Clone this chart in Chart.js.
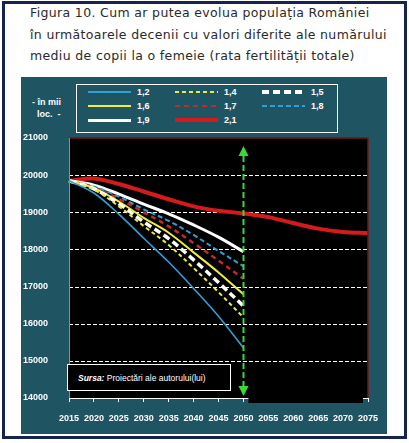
<!DOCTYPE html>
<html>
<head>
<meta charset="utf-8">
<script src="https://cdn.jsdelivr.net/npm/chart.js@4.4.1/dist/chart.umd.min.js"></script>
<style>
    body { margin: 0; width: 409px; height: 443px; position: relative; overflow: hidden; background: #fff; font-family: 'Liberation Sans', Arial, sans-serif; }
    #frame { position: absolute; left: 2px; top: 1px; width: 399px; height: 432px; border: 3px solid #14244a; }
    #titlu { position: absolute; left: 30px; top: 2px; font-family: 'DejaVu Sans', sans-serif; font-size: 12.5px; letter-spacing: 0.35px; line-height: 21.7px; color: #2a2a2a; white-space: nowrap; }
    #panou { position: absolute; left: 21px; top: 77px; width: 366px; height: 357px; background: #1f5463; }
    #unit { position: absolute; left: 32px; top: 96px; color: #fff; font-size: 9px; font-weight: bold; line-height: 12px; }
    #legenda { position: absolute; left: 76px; top: 84px; width: 260px; height: 47px; border: 1px solid #fff; }
    .item { position: absolute; height: 12px; color: #fff; font-size: 9px; font-weight: bold; line-height: 12px; }
    .item span.l { position: absolute; left: 0; width: 43px; }
    .item span.t { position: absolute; left: 49px; }
    #c { position: absolute; left: 0; top: 0; }
    #sursa { position: absolute; left: 67px; top: 364px; width: 164px; height: 27px; border: 1px solid #fff; background: #000; color: #fff; font-size: 8.5px; line-height: 27px; padding-left: 10px; box-sizing: border-box; white-space: nowrap; }
</style>
</head>
<body>
<div id="frame"></div>
<div id="titlu">Figura 10. Cum ar putea evolua populația României<br>în următoarele decenii cu valori diferite ale numărului<br>mediu de copii la o femeie (rata fertilității totale)</div>
<div id="panou"></div>
<div id="unit">- în mii<br>&nbsp;&nbsp;loc.&nbsp; -</div>
<div id="legenda"></div>
<canvas id="c" width="409" height="443"></canvas>
<div id="sursa"><b><i>Sursa:</i></b> Proiectări ale autorului(lui)</div>

<script>
// ani si valori (mii locuitori)
const ani = ['2015', '2020', '2025', '2030', '2035', '2040', '2045', '2050', '2055', '2060', '2065', '2070', '2075'];
const rtf12 = [19850, 19520, 18950, 18300, 17660, 16950, 16200, 15350];
const rtf14 = [19850, 19610, 19160, 18630, 18120, 17500, 16850, 16170];
const rtf15 = [19850, 19630, 19230, 18740, 18290, 17720, 17110, 16480];
const rtf16 = [19850, 19650, 19290, 18850, 18450, 17920, 17380, 16790];
const rtf17 = [19850, 19670, 19360, 19000, 18620, 18170, 17700, 17210];
const rtf18 = [19850, 19690, 19420, 19080, 18770, 18390, 17960, 17550];
const rtf19 = [19850, 19730, 19490, 19220, 18960, 18660, 18330, 17940];
const rtf21 = [19850, 19910, 19760, 19560, 19350, 19160, 19040, 18970, 18870, 18710, 18560, 18470, 18440];
const etichete = ['1,2', '1,4', '1,5', '1,6', '1,7', '1,8', '1,9', '2,1'];
const axaY = [14000, 15000, 16000, 17000, 18000, 19000, 20000, 21000];

const stiluri = [
    { date: rtf12, culoare: '#2f9fd6', grosime: 1.6, dash: [] },
    { date: rtf14, culoare: '#eeea3c', grosime: 2, dash: [4, 3] },
    { date: rtf15, culoare: '#ffffff', grosime: 3.5, dash: [7, 4] },
    { date: rtf16, culoare: '#f0ec3c', grosime: 2, dash: [] },
    { date: rtf17, culoare: '#c42a2a', grosime: 2.5, dash: [5, 4] },
    { date: rtf18, culoare: '#2f9fd6', grosime: 2, dash: [5, 3] },
    { date: rtf19, culoare: '#ffffff', grosime: 3, dash: [] },
    { date: rtf21, culoare: '#d41a1a', grosime: 4, dash: [] }
];

// legenda in 3 coloane
const leg = document.getElementById('legenda');
stiluri.forEach((s, i) => {
    const div = document.createElement('div');
    div.className = 'item';
    div.style.left = (11 + (i % 3) * 87) + 'px';
    div.style.top = (1 + Math.floor(i / 3) * 14) + 'px';
    const lin = document.createElement('span');
    lin.className = 'l';
    lin.style.top = (6 - s.grosime / 2) + 'px';
    lin.style.height = s.grosime + 'px';
    if (s.dash.length) {
        const a = s.dash[0], b = s.dash[0] + s.dash[1];
        lin.style.background = `repeating-linear-gradient(90deg, ${s.culoare} 0 ${a}px, transparent ${a}px ${b}px)`;
    } else {
        lin.style.background = s.culoare;
    }
    const t = document.createElement('span');
    t.className = 't';
    t.textContent = etichete[i];
    div.appendChild(lin);
    div.appendChild(t);
    leg.appendChild(div);
});

const decor = {
    id: 'decor',
    beforeDraw(chart) {
        const { ctx, chartArea: a } = chart;
        ctx.save();
        ctx.fillStyle = '#000';
        ctx.fillRect(a.left, a.top, a.right - a.left, a.bottom - a.top);
        ctx.restore();
    },
    beforeDatasetsDraw(chart) {
        // linii de grila punctate
        const { ctx, chartArea: a } = chart;
        const ys = chart.scales.y;
        ctx.save();
        ctx.strokeStyle = '#ffffff';
        ctx.lineWidth = 1;
        ctx.setLineDash([4, 2]);
        axaY.slice(1, -1).forEach(v => {
            const y = Math.round(ys.getPixelForValue(v)) + 0.5;
            ctx.beginPath();
            ctx.moveTo(a.left, y);
            ctx.lineTo(a.right, y);
            ctx.stroke();
        });
        ctx.restore();
    },
    afterDraw(chart) {
        const { ctx, chartArea: a } = chart;
        const xs = chart.scales.x;
        ctx.save();
        // chenar zona grafic
        ctx.strokeStyle = '#7a1414';
        ctx.lineWidth = 1.5;
        ctx.beginPath();
        ctx.moveTo(a.left, a.top);
        ctx.lineTo(a.right, a.top);
        ctx.lineTo(a.right, a.bottom);
        ctx.stroke();
        // axe
        ctx.strokeStyle = '#8c8c8c';
        ctx.lineWidth = 1;
        ctx.beginPath();
        ctx.moveTo(a.left + 0.5, a.top);
        ctx.lineTo(a.left + 0.5, a.bottom);
        ctx.stroke();
        ctx.strokeStyle = '#ffffff';
        ctx.beginPath();
        ctx.moveTo(a.left, a.bottom + 0.5);
        ctx.lineTo(a.right, a.bottom + 0.5);
        ctx.stroke();
        // dreptunghi negru peste partea dreapta
        const x0 = xs.getPixelForValue(7) + 5, x1 = xs.getPixelForValue(12) - 5;
        ctx.fillStyle = '#000';
        ctx.fillRect(x0, a.bottom - 1, x1 - x0, 6);
        // sageata verde la 2050
        const xv = Math.round(xs.getPixelForValue(7)) + 0.5;
        ctx.strokeStyle = '#3ad83a';
        ctx.fillStyle = '#3ad83a';
        ctx.lineWidth = 2;
        ctx.setLineDash([6, 3]);
        ctx.beginPath();
        ctx.moveTo(xv, a.top + 18);
        ctx.lineTo(xv, a.bottom - 12);
        ctx.stroke();
        ctx.setLineDash([]);
        ctx.beginPath();
        ctx.moveTo(xv, a.top + 8);
        ctx.lineTo(xv - 5, a.top + 18);
        ctx.lineTo(xv + 5, a.top + 18);
        ctx.closePath();
        ctx.fill();
        ctx.beginPath();
        ctx.moveTo(xv, a.bottom - 2);
        ctx.lineTo(xv - 5, a.bottom - 12);
        ctx.lineTo(xv + 5, a.bottom - 12);
        ctx.closePath();
        ctx.fill();
        ctx.restore();
    }
};

new Chart(document.getElementById('c'), {
    type: 'line',
    data: {
        labels: ani,
        datasets: stiluri.map((s, i) => ({
            label: etichete[i],
            data: s.date,
            borderColor: s.culoare,
            borderWidth: s.grosime,
            borderDash: s.dash,
            pointRadius: 0,
            tension: 0.35,
            fill: false
        }))
    },
    options: {
        responsive: false,
        animation: false,
        layout: { padding: { left: 0, top: 138, right: 41, bottom: 0 } },
        plugins: { legend: { display: false }, tooltip: { enabled: false } },
        scales: {
            x: {
                offset: false,
                grid: { drawOnChartArea: false, drawTicks: true, tickLength: 4, tickColor: '#ffffff', color: '#ffffff' },
                border: { display: false },
                ticks: { color: '#ffffff', font: { family: 'Liberation Sans', size: 9, weight: 'bold' }, padding: 11, maxRotation: 0, autoSkip: false },
                afterFit: s => { s.height = 45; }
            },
            y: {
                min: axaY[0],
                max: axaY[axaY.length - 1],
                grid: { display: false },
                border: { display: false },
                ticks: {
                    stepSize: 1000,
                    color: '#ffffff',
                    font: { family: 'Liberation Sans', size: 9, weight: 'bold' },
                    padding: 13,
                    callback: v => String(v)
                },
                afterFit: s => { s.width = 69; }
            }
        }
    },
    plugins: [decor]
});
</script>
</body>
</html>
